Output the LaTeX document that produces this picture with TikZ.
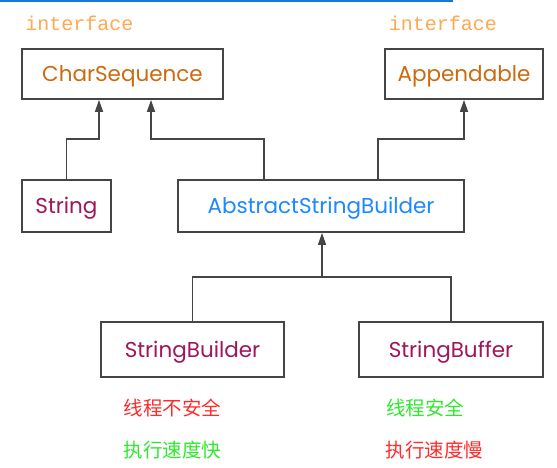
\documentclass[tikz,border=0pt]{standalone}
\usepackage{fontspec}
\setmainfont{Poppins}
\newfontfamily\cjk{Noto Sans CJK SC}
\newfontfamily\monof{Liberation Mono}
\usetikzlibrary{arrows.meta}
\definecolor{linec}{HTML}{454545}
\definecolor{orangetxt}{HTML}{CC6A10}
\definecolor{ifacec}{HTML}{FFA850}
\definecolor{plumc}{HTML}{A0165A}
\definecolor{bluec}{HTML}{1E88FF}
\definecolor{redc}{HTML}{FF2A2A}
\definecolor{greenc}{HTML}{2EE82E}
\definecolor{topblue}{HTML}{1577D6}
\tikzset{
  cls/.style={draw=linec, line width=1.8pt, fill=white, inner sep=0pt, text height=18pt, text depth=3pt, font=\fontsize{21.5}{24}\selectfont},
  conn/.style={draw=linec, line width=1.6pt},
  arr/.style={conn, -{Triangle[length=12pt,width=8pt]}},
  iface/.style={text=ifacec, font=\monof\fontsize{20}{22}\selectfont, inner sep=0pt},
  note/.style={font=\cjk\fontsize{19.5}{22}\selectfont, inner sep=0pt}
}
\begin{document}
\begin{tikzpicture}[x=1pt,y=-1pt]
\useasboundingbox (0,0) rectangle (557,468);
\fill[topblue] (0,0) rectangle (453,1.6);
\node[iface] (if1) at (79.5,23) {interface};
\node[iface] (if2) at (443,23) {interface};
\node[cls, minimum width=201pt, minimum height=50pt, text=orangetxt] (cs) at (122.5,74) {CharSequence};
\node[cls, minimum width=158pt, minimum height=50pt, text=orangetxt] (ap) at (464,74) {Appendable};
\node[cls, minimum width=89pt, minimum height=52pt, text=plumc] (st) at (66.5,206) {String};
\node[cls, minimum width=286pt, minimum height=52pt, text=bluec] (asb) at (321,206) {AbstractStringBuilder};
\node[cls, minimum width=183pt, minimum height=55pt, text=plumc] (sb) at (192.5,349.5) {StringBuilder};
\node[cls, minimum width=184pt, minimum height=55pt, text=plumc] (sf) at (451,349.5) {StringBuffer};
\coordinate (j1) at (99,139);
\coordinate (j2) at (151,139);
\coordinate (a2) at (264,139);
\coordinate (a3) at (378,139);
\coordinate (j3) at (464,139);
\coordinate (k) at (322,277);
\draw[arr] (st.north) |- (j1) -- (j1 |- cs.south);
\draw[arr] (a2 |- asb.north) -- (a2) -- (j2) -- (j2 |- cs.south);
\draw[arr] (a3 |- asb.north) -- (a3) -- (j3) -- (ap.south);
\draw[conn] (sb.north) |- (k) -| (sf.north);
\draw[arr] (k) -- (k |- asb.south);
\node[note, text=redc] (n1) at (172.5,408) {线程不安全};
\node[note, text=greenc] (n2) at (172.5,450) {执行速度快};
\node[note, text=greenc] (n3) at (425,408) {线程安全};
\node[note, text=redc] (n4) at (434.5,450) {执行速度慢};
\end{tikzpicture}
\end{document}
